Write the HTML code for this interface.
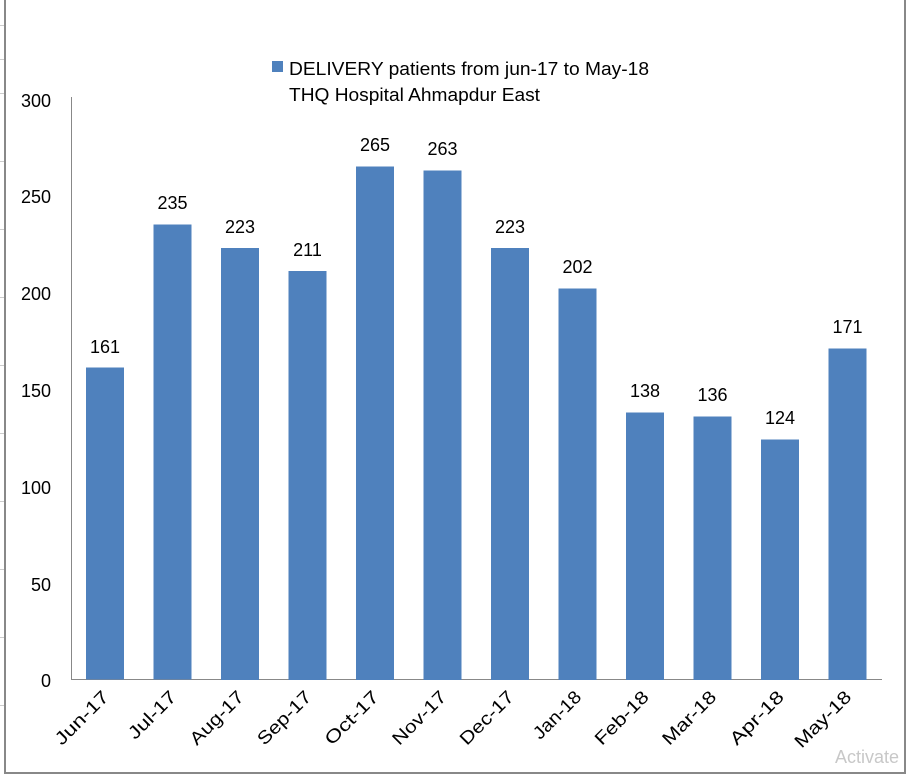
<!DOCTYPE html>
<html><head><meta charset="utf-8"><style>
html,body{margin:0;padding:0;background:#fff;}
svg{display:block;font-family:"Liberation Sans",sans-serif;}
</style></head><body>
<svg width="906" height="775" viewBox="0 0 906 775" xmlns="http://www.w3.org/2000/svg">
<rect x="0" y="0" width="906" height="775" fill="#fff"/>
<g stroke="#ccc" stroke-width="1">
<line x1="0" y1="25.5" x2="5" y2="25.5"/><line x1="0" y1="59.5" x2="5" y2="59.5"/><line x1="0" y1="93.5" x2="5" y2="93.5"/>
<line x1="0" y1="161.5" x2="5" y2="161.5"/><line x1="0" y1="229.5" x2="5" y2="229.5"/><line x1="0" y1="297.5" x2="5" y2="297.5"/>
<line x1="0" y1="365.5" x2="5" y2="365.5"/><line x1="0" y1="433.5" x2="5" y2="433.5"/><line x1="0" y1="501.5" x2="5" y2="501.5"/>
<line x1="0" y1="569.5" x2="5" y2="569.5"/><line x1="0" y1="637.5" x2="5" y2="637.5"/><line x1="0" y1="705.5" x2="5" y2="705.5"/>
</g>
<rect x="5" y="-2" width="900" height="775" fill="none" stroke="#888" stroke-width="2"/>
<line x1="71.5" y1="97" x2="71.5" y2="680" stroke="#888" stroke-width="1"/>
<line x1="71" y1="679.5" x2="882" y2="679.5" stroke="#888" stroke-width="1"/>
<g font-size="18" fill="#000" text-anchor="end">
<text x="51" y="107">300</text><text x="51" y="203">250</text><text x="51" y="300">200</text>
<text x="51" y="397">150</text><text x="51" y="494">100</text><text x="51" y="591">50</text><text x="51" y="687">0</text>
</g>
<g fill="#4F81BD">
<rect x="86" y="367.5" width="38" height="312"/>
<rect x="153.5" y="224.5" width="38" height="455"/>
<rect x="221" y="248" width="38" height="432"/>
<rect x="288.5" y="271" width="38" height="409"/>
<rect x="356" y="166.5" width="38" height="513.5"/>
<rect x="423.5" y="170.5" width="38" height="509.5"/>
<rect x="491" y="248" width="38" height="432"/>
<rect x="558.5" y="288.5" width="38" height="391.5"/>
<rect x="626" y="412.5" width="38" height="267.5"/>
<rect x="693.5" y="416.5" width="38" height="263.5"/>
<rect x="761" y="439.5" width="38" height="240.5"/>
<rect x="828.5" y="348.5" width="38" height="331.5"/>
</g>
<g font-size="18" fill="#000" text-anchor="middle">
<text x="105" y="353">161</text><text x="172.5" y="209">235</text><text x="240" y="233">223</text>
<text x="307.5" y="256">211</text><text x="375" y="151">265</text><text x="442.5" y="155">263</text>
<text x="510" y="233">223</text><text x="577.5" y="273">202</text><text x="645" y="397">138</text>
<text x="712.5" y="401">136</text><text x="780" y="424">124</text><text x="847.5" y="333">171</text>
</g>
<g font-size="18" fill="#000" text-anchor="end">
<text transform="translate(110,698) rotate(-45)" textLength="68" lengthAdjust="spacingAndGlyphs">Jun-17</text>
<text transform="translate(177.5,698) rotate(-45)" textLength="60" lengthAdjust="spacingAndGlyphs">Jul-17</text>
<text transform="translate(245,698) rotate(-45)" textLength="68" lengthAdjust="spacingAndGlyphs">Aug-17</text>
<text transform="translate(312.5,698) rotate(-45)" textLength="68" lengthAdjust="spacingAndGlyphs">Sep-17</text>
<text transform="translate(380,698) rotate(-45)" textLength="68" lengthAdjust="spacingAndGlyphs">Oct-17</text>
<text transform="translate(447.5,698) rotate(-45)" textLength="68" lengthAdjust="spacingAndGlyphs">Nov-17</text>
<text transform="translate(515,698) rotate(-45)" textLength="68" lengthAdjust="spacingAndGlyphs">Dec-17</text>
<text transform="translate(582.5,698) rotate(-45)" textLength="60" lengthAdjust="spacingAndGlyphs">Jan-18</text>
<text transform="translate(650,698) rotate(-45)" textLength="68" lengthAdjust="spacingAndGlyphs">Feb-18</text>
<text transform="translate(717.5,698) rotate(-45)" textLength="68" lengthAdjust="spacingAndGlyphs">Mar-18</text>
<text transform="translate(785,698) rotate(-45)" textLength="68" lengthAdjust="spacingAndGlyphs">Apr-18</text>
<text transform="translate(852.5,698) rotate(-45)" textLength="72" lengthAdjust="spacingAndGlyphs">May-18</text>
</g>
<rect x="272" y="61" width="11" height="11" fill="#4F81BD"/>
<text x="289" y="75" font-size="18" fill="#000" textLength="360" lengthAdjust="spacingAndGlyphs">DELIVERY patients from jun-17 to May-18</text>
<text x="289" y="101" font-size="18" fill="#000" textLength="251" lengthAdjust="spacingAndGlyphs">THQ Hospital Ahmapdur East</text>
<text x="835" y="763" font-size="18" fill="#c8c8c8">Activate</text>
</svg>
</body></html>
